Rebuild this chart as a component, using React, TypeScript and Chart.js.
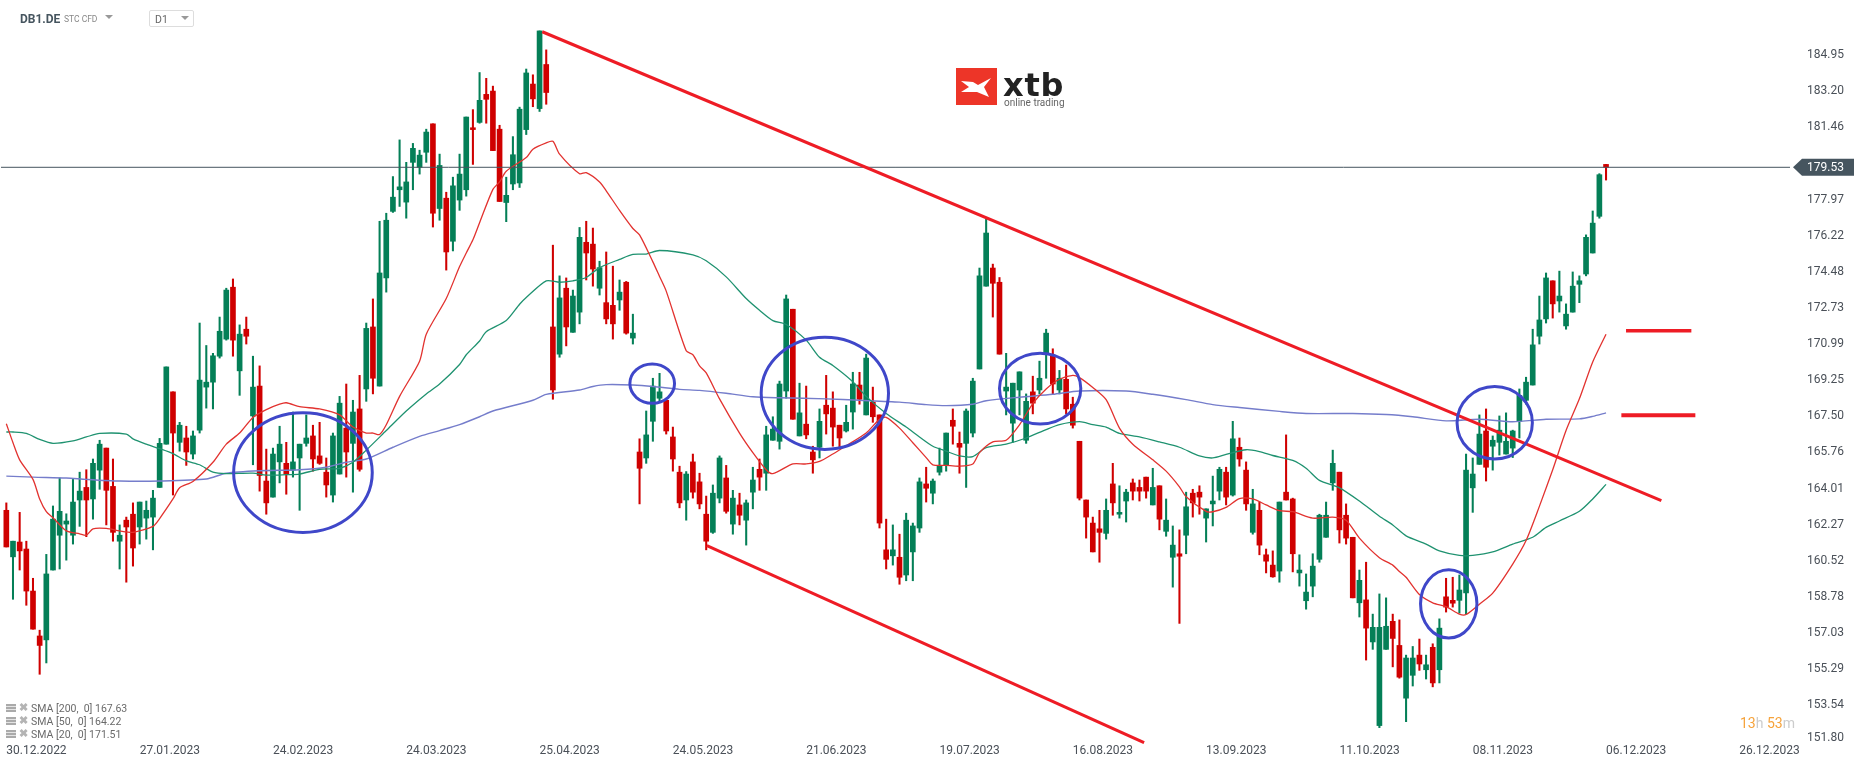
import React, { useEffect, useRef } from 'react';
import { Chart, registerables } from 'chart.js';

Chart.register(...registerables);

const opens = [
  162.88, 160.62, 161.34, 161.0, 158.96, 156.78, 156.59, 159.98, 161.67, 162.21,
  161.67, 163.38, 163.99, 163.43, 164.83, 165.9, 164.04, 161.38, 162.4, 162.69,
  162.07, 162.5, 162.55, 163.99, 166.09, 168.63, 166.18, 166.39, 165.61, 166.77,
  168.86, 169.1, 170.36, 171.19, 173.71, 169.65, 171.67, 167.46, 168.91, 164.3,
  163.52, 165.23, 165.16, 164.83, 165.42, 166.13, 166.49, 165.52, 164.73, 163.62,
  164.64, 166.87, 166.13, 167.8, 168.77, 171.78, 168.91, 174.16, 177.39, 178.44,
  177.84, 179.77, 179.53, 180.26, 181.64, 177.53, 178.03, 175.94, 177.94, 178.44,
  181.45, 181.71, 183.07, 183.23, 181.38, 177.82, 178.72, 178.77, 181.36, 183.57,
  182.38, 184.52, 171.78, 170.46, 173.66, 171.52, 172.5, 175.89, 175.8, 173.66,
  172.96, 172.83, 173.09, 173.95, 171.24, 165.71, 165.42, 167.2, 168.32, 168.22,
  166.44, 164.73, 163.38, 165.23, 164.26, 162.69, 161.81, 163.47, 164.45, 162.21,
  163.14, 162.4, 163.76, 164.87, 164.68, 166.28, 166.23, 168.67, 172.64, 166.49,
  167.06, 165.71, 165.94, 167.98, 167.84, 167.01, 166.73, 167.65, 168.96, 167.51,
  168.13, 167.51, 160.96, 160.67, 160.6, 159.74, 160.86, 162.02, 164.16, 163.71,
  164.73, 165.09, 167.25, 166.13, 166.13, 166.63, 169.74, 173.76, 174.64, 173.95,
  168.67, 167.11, 168.72, 166.28, 168.63, 168.72, 170.5, 170.41, 168.72, 169.24,
  168.03, 166.23, 163.38, 162.26, 161.98, 161.76, 164.16, 162.69, 163.33, 164.21,
  163.99, 164.49, 163.14, 164.07, 161.86, 160.6, 160.77, 161.67, 163.71, 163.76,
  162.5, 163.19, 163.81, 164.73, 163.62, 165.94, 164.83, 161.81, 162.88, 160.72,
  160.22, 159.93, 163.76, 163.43, 159.84, 158.49, 159.2, 160.5, 161.57, 164.21,
  164.73, 162.64, 161.57, 158.39, 158.53, 156.49, 152.43, 156.13, 157.49, 156.32,
  153.76, 154.87, 155.85, 155.14, 156.23, 155.14, 158.68, 158.51, 158.51, 158.87,
  163.97, 165.11, 166.73, 165.99, 166.18, 165.61, 165.9, 167.2, 168.22, 168.96,
  171.33, 172.17, 174.02, 173.04, 171.83, 172.5, 173.85, 174.35, 175.37, 177.15, 179.67,
];
const highs = [
  163.24, 161.38, 162.78, 161.38, 159.58, 157.06, 160.74, 163.09, 164.45, 162.71,
  164.38, 164.73, 164.85, 165.37, 166.28, 165.9, 165.37, 162.17, 162.55, 163.24,
  163.28, 163.33, 163.85, 166.37, 169.84, 168.63, 167.15, 166.96, 166.73, 171.97,
  170.88, 170.5, 172.26, 173.66, 174.11, 171.88, 172.26, 170.36, 169.89, 165.85,
  165.9, 166.96, 166.18, 167.65, 166.09, 167.51, 167.01, 167.15, 165.42, 166.63,
  168.41, 169.01, 168.22, 169.43, 171.97, 173.14, 176.91, 177.3, 179.08, 180.86,
  179.77, 180.69, 180.36, 181.38, 181.64, 180.17, 178.32, 179.05, 180.17, 181.97,
  182.33, 184.13, 183.85, 183.47, 181.57, 179.05, 181.02, 182.45, 184.3, 184.02,
  186.15, 185.23, 175.75, 174.26, 174.16, 173.57, 176.61, 176.91, 176.58, 174.97,
  175.42, 174.73, 174.06, 173.99, 172.4, 166.35, 167.7, 169.29, 169.53, 168.22,
  166.92, 165.02, 164.76, 165.61, 164.68, 163.57, 164.11, 165.52, 165.06, 163.85,
  163.71, 163.38, 164.97, 165.37, 166.96, 167.42, 169.15, 173.33, 172.64, 169.05,
  168.91, 165.99, 167.8, 169.43, 168.63, 167.01, 167.98, 169.58, 169.58, 170.46,
  168.86, 167.51, 162.45, 162.17, 161.72, 162.74, 162.26, 164.45, 164.97, 164.4,
  165.9, 166.63, 167.8, 166.68, 167.8, 169.29, 174.64, 177.06, 174.83, 174.18,
  170.5, 169.05, 169.6, 168.53, 169.39, 170.12, 171.67, 170.72, 169.67, 169.93,
  168.37, 166.23, 163.38, 162.55, 162.88, 163.43, 165.16, 164.07, 163.9, 164.4,
  164.35, 164.49, 164.92, 164.07, 163.43, 162.12, 161.93, 163.76, 163.9, 164.07,
  162.95, 164.54, 164.97, 164.97, 167.2, 166.39, 165.23, 163.9, 163.28, 161.0,
  160.91, 163.28, 166.54, 163.47, 160.72, 159.79, 160.77, 162.69, 163.28, 165.8,
  164.73, 163.19, 161.57, 159.98, 160.36, 157.84, 158.82, 158.63, 157.84, 157.56,
  155.85, 156.27, 156.63, 155.85, 156.4, 157.61, 159.58, 159.63, 159.74, 165.61,
  165.42, 167.51, 167.8, 166.49, 167.46, 167.61, 166.77, 168.77, 169.34, 171.67,
  173.28, 174.4, 174.02, 174.49, 172.9, 174.45, 174.26, 176.25, 177.41, 179.22, 179.67,
];
const lows = [
  161.1, 158.56, 159.98, 158.27, 157.11, 154.92, 155.47, 159.98, 160.03, 160.46,
  161.24, 162.1, 161.6, 162.45, 163.9, 162.17, 161.38, 160.03, 159.39, 160.17,
  161.24, 161.48, 160.96, 163.99, 166.09, 163.62, 165.75, 165.06, 165.37, 166.63,
  167.84, 167.8, 170.27, 171.14, 170.36, 168.46, 170.95, 165.09, 163.81, 162.69,
  163.52, 164.21, 163.66, 164.49, 162.88, 165.99, 164.78, 165.11, 163.52, 163.28,
  164.64, 164.49, 163.76, 164.78, 168.17, 168.53, 168.91, 173.47, 177.34, 177.63,
  177.06, 178.44, 179.2, 179.77, 176.63, 176.96, 174.54, 175.47, 177.44, 178.13,
  179.67, 181.67, 181.67, 180.34, 177.87, 176.89, 178.44, 178.55, 181.12, 182.47,
  182.24, 182.59, 168.27, 170.31, 170.86, 171.52, 171.93, 174.06, 173.76, 173.33,
  171.93, 171.19, 172.59, 171.43, 170.95, 163.19, 165.16, 166.23, 168.13, 166.58,
  164.78, 163.0, 162.4, 163.47, 162.95, 160.96, 161.76, 163.24, 162.74, 161.72,
  162.17, 161.19, 162.95, 163.85, 163.85, 166.28, 165.85, 168.32, 167.3, 166.49,
  166.35, 164.68, 165.42, 166.58, 165.99, 165.94, 166.68, 166.82, 168.03, 167.51,
  167.15, 162.02, 160.03, 160.22, 159.29, 159.46, 159.46, 161.81, 163.28, 163.19,
  164.59, 164.78, 166.09, 164.68, 163.99, 166.44, 169.74, 173.76, 172.26, 170.46,
  167.51, 166.18, 167.51, 166.13, 167.56, 168.53, 169.29, 168.53, 168.53, 167.56,
  166.87, 163.38, 161.53, 160.86, 160.36, 161.48, 162.64, 162.5, 162.31, 163.38,
  163.33, 163.47, 163.14, 161.93, 161.62, 159.15, 157.39, 160.77, 162.55, 162.69,
  161.34, 162.12, 163.38, 163.14, 163.57, 165.02, 162.88, 161.72, 160.72, 159.84,
  159.63, 159.39, 163.38, 159.89, 159.2, 158.08, 158.68, 160.36, 161.57, 163.85,
  161.29, 161.24, 158.63, 157.7, 155.61, 156.13, 152.33, 156.13, 155.28, 154.73,
  152.62, 154.35, 155.11, 154.69, 154.31, 154.5, 157.94, 158.18, 157.89, 157.84,
  162.78, 165.11, 164.3, 164.83, 165.56, 165.61, 165.44, 166.39, 168.03, 168.96,
  170.95, 171.97, 172.21, 172.5, 171.67, 172.5, 172.96, 174.26, 175.37, 177.06, 178.91,
];
const closes = [
  161.1, 161.38, 160.91, 158.96, 157.11, 156.32, 159.79, 162.45, 162.83, 162.36,
  163.28, 163.81, 163.38, 165.16, 166.09, 163.85, 161.81, 161.67, 162.07, 161.05,
  163.28, 162.88, 163.47, 166.13, 169.84, 166.63, 167.01, 165.71, 166.49, 169.2,
  169.1, 170.38, 171.57, 173.57, 171.14, 171.43, 171.33, 168.86, 164.57, 163.24,
  165.61, 166.09, 164.64, 165.23, 166.09, 166.39, 165.37, 165.16, 164.11, 166.49,
  168.08, 165.71, 167.65, 164.87, 171.71, 169.29, 174.4, 176.96, 178.08, 178.58,
  178.82, 180.45, 180.12, 181.24, 177.3, 179.62, 175.42, 178.63, 179.2, 181.97,
  181.36, 182.78, 182.83, 180.34, 177.87, 178.17, 180.14, 182.35, 184.11, 182.85,
  186.15, 183.16, 168.72, 173.19, 171.78, 173.28, 176.13, 175.37, 174.59, 174.66,
  172.17, 171.93, 173.47, 171.48, 171.48, 164.92, 166.54, 168.91, 168.63, 166.73,
  165.37, 163.24, 164.64, 163.76, 163.19, 161.38, 163.71, 165.42, 162.83, 163.47,
  162.64, 163.24, 164.35, 164.49, 166.54, 166.82, 169.01, 173.14, 167.3, 167.61,
  166.54, 165.33, 167.2, 167.56, 166.92, 166.39, 167.15, 169.01, 168.27, 170.27,
  167.42, 162.26, 160.5, 160.96, 159.63, 162.4, 162.12, 164.26, 163.95, 164.3,
  165.02, 166.63, 166.96, 165.94, 167.7, 169.15, 174.26, 176.34, 173.9, 170.46,
  168.86, 169.05, 169.6, 168.17, 168.08, 169.29, 171.48, 169.01, 169.29, 167.8,
  167.01, 163.47, 162.55, 160.86, 161.81, 162.88, 163.24, 162.78, 163.76, 163.81,
  163.81, 163.81, 163.99, 162.45, 162.4, 161.19, 160.65, 163.05, 163.24, 163.52,
  162.95, 163.33, 164.87, 163.52, 166.35, 165.37, 163.19, 163.19, 161.19, 160.41,
  159.65, 163.28, 163.38, 160.77, 159.98, 158.91, 160.17, 162.64, 162.64, 165.16,
  161.93, 161.53, 158.63, 159.48, 157.16, 157.2, 157.2, 157.25, 156.66, 154.78,
  155.71, 155.71, 155.42, 155.38, 154.5, 157.16, 158.18, 158.37, 159.01, 164.83,
  164.64, 166.58, 164.97, 166.28, 166.77, 166.23, 166.73, 168.46, 169.1, 170.91,
  172.12, 174.16, 172.9, 173.28, 172.4, 173.76, 174.02, 176.13, 176.82, 179.17, 179.53,
];

const sma20Idx = [
  0, 1, 2, 4, 5, 6, 7, 9, 11, 12, 13, 15, 17, 19, 22, 23, 25, 26, 28, 31, 33, 35, 37, 39, 41, 42, 44, 47, 50, 52,
  54, 55, 56, 57, 59, 62, 63, 66, 68, 69, 70, 71, 73, 74, 75, 78, 79, 81, 82, 83, 86, 87, 89, 90, 92, 94, 95, 97, 98, 99,
  102, 103, 104, 105, 107, 110, 112, 114, 115, 118, 120, 122, 124, 126, 129, 131, 132, 134, 136, 138, 139, 141, 143, 145, 146, 148, 150, 152, 154, 156,
  158, 160, 161, 163, 165, 167, 169, 172, 174, 176, 177, 180, 181, 183, 185, 187, 189, 191, 193, 196, 199, 201, 203, 206, 208, 209, 210, 212, 214, 216,
  218, 219, 221, 223, 226, 228, 230, 232, 234, 236, 238, 240,
];
const sma20 = [
  167.08, 166.16, 165.33, 164.38, 163.43, 162.81, 162.52, 161.88, 161.74, 161.67, 161.98, 162.0, 161.88, 161.81, 162.1, 162.48, 163.43, 163.97, 164.28, 165.21, 166.09, 166.63, 167.39, 167.77, 168.03, 168.1, 167.91, 167.8, 167.51, 166.92,
  166.63, 166.63, 166.56, 167.03, 168.41, 170.12, 171.43, 173.16, 174.71, 175.37, 176.01, 176.84, 178.46, 178.82, 179.34, 180.0, 180.41, 180.72, 180.79, 180.17, 179.22, 179.27, 178.82, 178.39, 177.44, 176.56, 176.25, 174.94, 174.23, 173.52,
  170.62, 170.43, 169.89, 169.55, 168.29, 166.63, 165.68, 164.85, 164.66, 165.13, 165.13, 165.25, 165.61, 166.01, 166.63, 167.3, 167.39, 166.87, 166.16, 165.44, 165.09, 165.06, 165.02, 165.13, 165.68, 166.2, 166.28, 167.03, 168.06, 168.77,
  169.24, 169.43, 169.32, 168.84, 168.25, 166.87, 166.09, 165.33, 164.78, 164.02, 163.54, 162.83, 162.81, 163.02, 163.45, 163.43, 163.14, 162.86, 162.81, 162.5, 162.55, 162.4, 161.53, 160.58, 160.22, 159.91, 159.63, 158.79, 158.39, 158.2,
  157.84, 157.82, 158.32, 158.86, 160.27, 161.41, 163.07, 164.85, 166.75, 168.29, 170.08, 171.43,
];
const sma50Idx = [
  0, 1, 3, 5, 7, 10, 12, 14, 18, 19, 21, 23, 25, 27, 29, 31, 33, 37, 39, 42, 44, 47, 50, 52, 54, 57, 60, 63, 65, 68,
  69, 71, 72, 75, 77, 78, 81, 83, 85, 87, 89, 92, 94, 96, 98, 103, 105, 108, 111, 113, 115, 117, 120, 122, 124, 127, 129, 132, 135, 137,
  139, 141, 143, 145, 147, 150, 153, 156, 158, 161, 163, 165, 167, 170, 173, 176, 179, 181, 183, 186, 188, 190, 193, 195, 197, 200, 203, 206, 208, 210,
  213, 215, 218, 220, 223, 226, 229, 231, 233, 236, 238, 240,
];
const sma50 = [
  166.68, 166.68, 166.61, 166.32, 166.13, 166.25, 166.44, 166.61, 166.58, 166.35, 166.09, 165.87, 165.63, 165.28, 165.09, 164.73, 164.66, 164.68, 164.59, 164.61, 164.64, 164.87, 164.92, 165.21, 165.8, 166.75, 167.7, 168.53, 169.01, 169.96,
  170.43, 171.1, 171.55, 172.09, 172.88, 173.21, 174.02, 173.95, 174.02, 174.18, 174.66, 175.06, 175.3, 175.32, 175.49, 175.28, 174.99, 174.21, 173.16, 172.59, 172.09, 171.9, 171.14, 170.31, 169.91, 169.12, 168.41, 167.58, 166.92, 166.44,
  165.99, 165.75, 165.52, 165.49, 165.92, 166.09, 166.39, 166.8, 167.04, 167.18, 167.04, 166.92, 166.61, 166.44, 166.2, 165.94, 165.52, 165.42, 165.59, 165.82, 165.73, 165.54, 165.3, 164.92, 164.33, 163.97, 163.33, 162.59, 162.17, 161.64,
  161.24, 160.91, 160.69, 160.69, 160.86, 161.24, 161.57, 162.05, 162.36, 162.83, 163.43, 164.14,
];
const sma200Idx = [
  0, 4, 9, 12, 17, 23, 30, 33, 38, 44, 48, 51, 54, 58, 62, 65, 68, 71, 73, 79, 81, 86, 88, 90, 94, 97, 101, 104, 108, 112,
  116, 123, 128, 134, 138, 141, 145, 147, 152, 157, 161, 168, 172, 177, 181, 185, 191, 195, 202, 207, 211, 216, 221, 226, 231, 236, 238, 240,
];
const sma200 = [
  164.54, 164.49, 164.45, 164.38, 164.3, 164.3, 164.4, 164.68, 164.8, 164.85, 164.97, 165.21, 165.37, 165.94, 166.47, 166.75, 167.04, 167.42, 167.7, 168.22, 168.51, 168.72, 168.89, 168.98, 168.96, 168.89, 168.75, 168.7, 168.56, 168.39,
  168.34, 168.29, 168.22, 168.13, 168.01, 167.96, 168.03, 168.2, 168.37, 168.51, 168.67, 168.67, 168.51, 168.25, 168.01, 167.87, 167.68, 167.58, 167.58, 167.53, 167.42, 167.22, 167.3, 167.18, 167.3, 167.32, 167.44, 167.61,
];

const lastPrice = 179.53;
const dateLabels = ['30.12.2022', '27.01.2023', '24.02.2023', '24.03.2023', '25.04.2023', '24.05.2023', '21.06.2023', '19.07.2023', '16.08.2023', '13.09.2023', '11.10.2023', '08.11.2023', '06.12.2023', '26.12.2023'];
const dateIdx = [0, 20, 40, 60, 80, 100, 120, 140, 160, 180, 200, 220, 240, 260];
const priceLabels = ['184.95', '183.20', '181.46', '177.97', '176.22', '174.48', '172.73', '170.99', '169.25', '167.50', '165.76', '164.01', '162.27', '160.52', '158.78', '157.03', '155.29', '153.54', '151.80'];
// the bottom label sits a little above its true place on the platform's axis
const priceTicks = [184.95, 183.2, 181.46, 177.97, 176.22, 174.48, 172.73, 170.99, 169.25, 167.5, 165.76, 164.01, 162.27, 160.52, 158.78, 157.03, 155.29, 153.54, 151.94];

// drawn-on trend lines: [candle number, price] at both ends
const upperTrend = [[80.4, 186.11], [248.3, 163.35]];
const lowerTrend = [[105.1, 161.17], [170.7, 151.6]];
const targetHigh = [[243, 171.6], [252.8, 171.6]];
const targetLow = [[242.3, 167.49], [253.4, 167.49]];

// hand-drawn circles: centre candle, centre price, half width in candles, half height in price
const circleX = [44.5, 96.9, 122.8, 155.1, 216.4, 223.3];
const circleY = [164.71, 169.03, 168.56, 168.79, 158.34, 167.13];
const circleW = [10.4, 3.35, 9.55, 6.1, 4.23, 5.65];
const circleH = [2.89, 0.95, 2.71, 1.71, 1.65, 1.75];

const legendLines = ['SMA [200,  0] 167.63', 'SMA [50,  0] 164.22', 'SMA [20,  0] 171.51'];

const GREEN = '#047f57';
const RED = '#cf0000';
const SLATE = '#46555f';
const FONT = 'Roboto, sans-serif';

// the readings above were taken against the last-price line, with a slightly short unit
const cal = (v: number) => lastPrice + (v - lastPrice) * 0.9952;

const zip = (xs: number[], ys: number[]) => xs.map((x, i) => ({ x, y: cal(ys[i]) }));
const pts = (p: number[][]) => p.map(([x, y]) => ({ x, y: cal(y) }));

const overlays = {
  id: 'overlays',
  afterDatasetsDraw(chart: any) {
    const { ctx, scales: { x, y } } = chart;
    ctx.save();
    ctx.strokeStyle = '#3f47c9';
    ctx.lineWidth = 3;
    circleX.forEach((cx, i) => {
      const cy = cal(circleY[i]);
      const px = x.getPixelForValue(cx);
      const py = y.getPixelForValue(cy);
      const rx = x.getPixelForValue(cx + circleW[i]) - px;
      const ry = py - y.getPixelForValue(cy + circleH[i]);
      ctx.beginPath();
      ctx.ellipse(px, py, rx, ry, 0, 0, Math.PI * 2);
      ctx.stroke();
    });
    ctx.restore();
  },
  afterDraw(chart: any) {
    const { ctx, scales: { y } } = chart;
    const py = y.getPixelForValue(lastPrice);
    ctx.save();
    ctx.fillStyle = SLATE;
    ctx.beginPath();
    ctx.moveTo(1793, py);
    ctx.lineTo(1802, py - 8.5);
    ctx.lineTo(1854, py - 8.5);
    ctx.lineTo(1854, py + 8.5);
    ctx.lineTo(1802, py + 8.5);
    ctx.closePath();
    ctx.fill();
    ctx.fillStyle = '#ffffff';
    ctx.font = '12px ' + FONT;
    ctx.textBaseline = 'middle';
    ctx.fillText(lastPrice.toFixed(2), 1807, py + 0.5);
    ctx.restore();
  },
};

const CandleChart = () => {
  const ref = useRef<HTMLCanvasElement>(null);

  useEffect(() => {
    if (!ref.current) return;
    const colors = closes.map((c, i) => (c >= opens[i] ? GREEN : RED));
    const line = (data: any[], color: string, width: number, order: number, tension = 0) => ({
      type: 'line' as const,
      data,
      borderColor: color,
      borderWidth: width,
      pointRadius: 0,
      tension,
      order,
    });
    const chart = new Chart(ref.current, {
      type: 'bar',
      data: {
        datasets: [
          line(pts(upperTrend), '#ee1c25', 3, 1),
          line(pts(lowerTrend), '#ee1c25', 3, 1),
          line(pts(targetHigh), '#ee1c25', 3.5, 1),
          line(pts(targetLow), '#ee1c25', 4, 1),
          line([{ x: -0.8, y: lastPrice }, { x: 268.5, y: lastPrice }], SLATE, 1, 2),
          line(zip(sma20Idx, sma20), '#e2322f', 1.3, 3, 0.25),
          line(zip(sma50Idx, sma50), '#1f9270', 1.3, 3, 0.25),
          line(zip(sma200Idx, sma200), '#757dcb', 1.4, 3, 0.25),
          {
            data: opens.map((o, i) => ({ x: i, y: [cal(o), cal(closes[i])] })),
            backgroundColor: colors,
            barThickness: 5,
            grouped: false,
            order: 4,
          },
          {
            data: lows.map((l, i) => ({ x: i, y: [cal(l), cal(highs[i])] })),
            backgroundColor: colors,
            barThickness: 1.4,
            grouped: false,
            order: 5,
          },
        ] as any,
      },
      options: {
        responsive: false,
        animation: false,
        layout: { padding: 0 },
        plugins: { legend: { display: false }, tooltip: { enabled: false } },
        scales: {
          x: {
            type: 'linear',
            offset: false,
            min: -0.95,
            max: 267.6,
            grid: { display: false, drawTicks: false },
            border: { display: false },
            afterBuildTicks: (s: any) => { s.ticks = dateIdx.map((value) => ({ value })); },
            afterFit: (s: any) => { s.height = 23; s.paddingLeft = 0; s.paddingRight = 0; },
            ticks: {
              autoSkip: false,
              maxRotation: 0,
              align: 'start',
              padding: 0,
              color: '#4a5058',
              font: { family: 'Roboto', size: 12 },
              callback: (v: any) => dateLabels[dateIdx.indexOf(v)],
            },
          },
          y: {
            position: 'right',
            min: 151.67,
            max: 187.612,
            grid: { display: false, drawTicks: false },
            border: { display: false },
            afterBuildTicks: (s: any) => { s.ticks = priceTicks.map((value) => ({ value })); },
            afterFit: (s: any) => { s.width = 76; s.paddingTop = 0; s.paddingBottom = 0; },
            ticks: {
              autoSkip: false,
              padding: 17,
              color: '#4a5058',
              font: { family: 'Roboto', size: 12 },
              callback: (_v: any, i: number) => priceLabels[i],
            },
          },
        },
      },
      plugins: [overlays],
    } as any);
    return () => chart.destroy();
  }, []);

  return <canvas ref={ref} width={1866} height={767} style={{ display: 'block' }} />;
};

const abs = (left: number, top: number, extra: React.CSSProperties = {}): React.CSSProperties => ({
  position: 'absolute', left, top, fontFamily: FONT, whiteSpace: 'pre', lineHeight: 1, ...extra,
});

const tri = (left: number, top: number): React.CSSProperties => ({
  position: 'absolute', left, top, width: 0, height: 0,
  borderLeft: '4px solid transparent', borderRight: '4px solid transparent', borderTop: '4px solid #999',
});

export default function App() {
  return (
    <div style={{ position: 'absolute', left: 0, top: 0, width: 1866, height: 767, background: '#fff', overflow: 'hidden' }}>
      <CandleChart />

      <div style={abs(20, 13, { fontSize: 12, fontWeight: 700, color: SLATE })}>DB1.DE</div>
      <div style={abs(64, 15, { fontSize: 8.5, color: '#888' })}>STC CFD</div>
      <div style={tri(105, 15)} />
      <div style={{ position: 'absolute', left: 149, top: 10, width: 43, height: 15, border: '1px solid #ddd', borderRadius: 2 }} />
      <div style={abs(155, 15, { fontSize: 10.5, color: '#666' })}>D1</div>
      <div style={tri(181, 16)} />

      <svg style={{ position: 'absolute', left: 956, top: 68 }} width={41} height={37}>
        <rect width={41} height={37} fill="#ed3528" />
        <path d="M5 13 L17 14 L22 17 L35 10 L28 19 L33 29 L21 24 L5 24 L13 19 Z" fill="#fff" />
      </svg>
      <div style={abs(1003, 69, { fontFamily: 'DejaVu Sans', fontSize: 32, fontWeight: 700, color: '#222', letterSpacing: 0.8 })}>xtb</div>
      <div style={abs(1004, 98, { fontSize: 10, color: '#666' })}>online trading</div>

      {legendLines.map((t, i) => (
        <React.Fragment key={t}>
          <div style={{ position: 'absolute', left: 6, top: 704 + i * 13, width: 10, height: 8, background: 'repeating-linear-gradient(#aaa 0 2px, #e4e4e4 2px 3px)' }} />
          <div style={abs(19, 702 + i * 13, { fontSize: 11, fontWeight: 700, color: '#b4b4b4' })}>✖</div>
          <div style={abs(31, 704 + i * 13, { fontSize: 10.5, color: '#6a6a6a' })}>{t}</div>
        </React.Fragment>
      ))}

      <div style={abs(1740, 716, { fontSize: 14, color: '#f6a33b' })}>
        13<span style={{ color: '#ccc' }}>h </span>53<span style={{ color: '#ccc' }}>m</span>
      </div>
    </div>
  );
}
